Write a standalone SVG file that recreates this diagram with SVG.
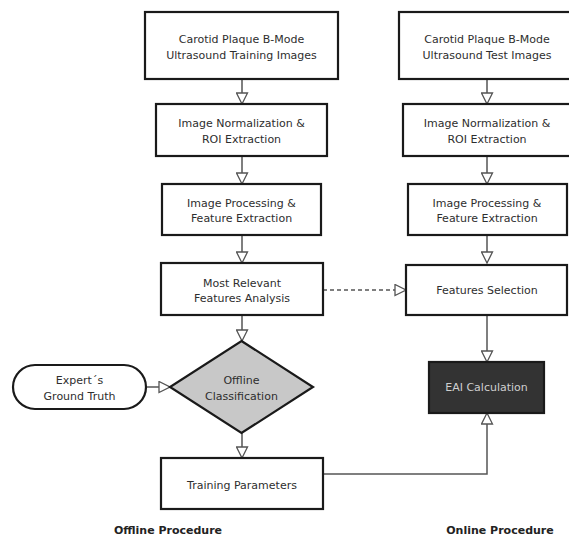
<svg xmlns="http://www.w3.org/2000/svg" width="569" height="537" viewBox="0 0 569 537">
<style>
  .box { fill: #ffffff; stroke: #1a1a1a; stroke-width: 2.2; }
  .t { font-family: "DejaVu Sans", sans-serif; font-size: 11px; fill: #2e2e2e; text-anchor: middle; }
  .lab { font-family: "DejaVu Sans", sans-serif; font-weight: bold; font-size: 11px; fill: #222222; text-anchor: middle; }
  .c { fill: none; stroke: #555555; stroke-width: 1.5; }
  .dash { stroke-dasharray: 4 3; }
</style>
<defs>
  <marker id="ah" markerUnits="userSpaceOnUse" markerWidth="13" markerHeight="13" viewBox="-1 -1 13 13" refX="11" refY="5.5" orient="auto">
    <path d="M0,0 L11,5.5 L0,11 Z" fill="#ffffff" stroke="#555555" stroke-width="1.3"/>
  </marker>
</defs>
<rect width="569" height="537" fill="#ffffff"/>

<g id="connectors">
  <line class="c" x1="242" y1="79" x2="242" y2="104" marker-end="url(#ah)"/>
  <line class="c" x1="242" y1="156" x2="242" y2="184" marker-end="url(#ah)"/>
  <line class="c" x1="242" y1="235" x2="242" y2="263" marker-end="url(#ah)"/>
  <line class="c" x1="242" y1="315" x2="242" y2="341" marker-end="url(#ah)"/>
  <line class="c" x1="242" y1="433" x2="242" y2="458" marker-end="url(#ah)"/>
  <line class="c" x1="146" y1="387" x2="170" y2="387" marker-end="url(#ah)"/>
  <line class="c dash" x1="323" y1="290" x2="406" y2="290" marker-end="url(#ah)"/>
  <line class="c" x1="487" y1="79" x2="487" y2="104" marker-end="url(#ah)"/>
  <line class="c" x1="487" y1="156" x2="487" y2="184" marker-end="url(#ah)"/>
  <line class="c" x1="487" y1="235" x2="487" y2="263" marker-end="url(#ah)"/>
  <line class="c" x1="487" y1="315" x2="487" y2="362" marker-end="url(#ah)"/>
  <polyline class="c" points="323,474 487,474 487,413" marker-end="url(#ah)"/>
</g>

<g id="train-images">
  <rect class="box" x="145" y="12" width="193" height="67"/>
  <text class="t" x="241.5" y="43">Carotid Plaque B-Mode</text>
  <text class="t" x="241.5" y="59">Ultrasound Training Images</text>
</g>
<g id="train-norm">
  <rect class="box" x="156" y="104" width="171" height="52"/>
  <text class="t" x="241.5" y="127">Image Normalization &amp;</text>
  <text class="t" x="241.5" y="143">ROI Extraction</text>
</g>
<g id="train-proc">
  <rect class="box" x="162" y="184" width="159" height="51"/>
  <text class="t" x="241.5" y="207">Image Processing &amp;</text>
  <text class="t" x="241.5" y="222">Feature Extraction</text>
</g>
<g id="relevant">
  <rect class="box" x="161" y="263" width="162" height="52"/>
  <text class="t" x="242" y="287">Most Relevant</text>
  <text class="t" x="242" y="302">Features Analysis</text>
</g>
<g id="offline-class">
  <polygon points="241.5,341 313,387 241.5,433 170,387" fill="#c8c8c8" stroke="#1a1a1a" stroke-width="2.2"/>
  <text class="t" x="241.5" y="384">Offline</text>
  <text class="t" x="241.5" y="400">Classification</text>
</g>
<g id="ground-truth">
  <rect class="box" x="13" y="365" width="133" height="44" rx="22" ry="22"/>
  <text class="t" x="79.5" y="384">Expert´s</text>
  <text class="t" x="79.5" y="400">Ground Truth</text>
</g>
<g id="training-params">
  <rect class="box" x="161" y="458" width="162" height="51"/>
  <text class="t" x="242" y="489">Training Parameters</text>
</g>

<g id="test-images">
  <rect class="box" x="399" y="12" width="178" height="67"/>
  <text class="t" x="487" y="43">Carotid Plaque B-Mode</text>
  <text class="t" x="487" y="59">Ultrasound Test Images</text>
</g>
<g id="test-norm">
  <rect class="box" x="403" y="104" width="172" height="52"/>
  <text class="t" x="487" y="127">Image Normalization &amp;</text>
  <text class="t" x="487" y="143">ROI Extraction</text>
</g>
<g id="test-proc">
  <rect class="box" x="408" y="184" width="159" height="51"/>
  <text class="t" x="487" y="207">Image Processing &amp;</text>
  <text class="t" x="487" y="222">Feature Extraction</text>
</g>
<g id="feat-sel">
  <rect class="box" x="406" y="265" width="161" height="50"/>
  <text class="t" x="487" y="294">Features Selection</text>
</g>
<g id="eai">
  <rect x="429" y="362" width="115" height="51" fill="#333333" stroke="#1a1a1a" stroke-width="2.2"/>
  <text class="t" x="486.5" y="391" style="fill:#cfcfcf">EAI Calculation</text>
</g>

<text class="lab" x="168" y="534">Offline Procedure</text>
<text class="lab" x="500" y="534">Online Procedure</text>
</svg>
